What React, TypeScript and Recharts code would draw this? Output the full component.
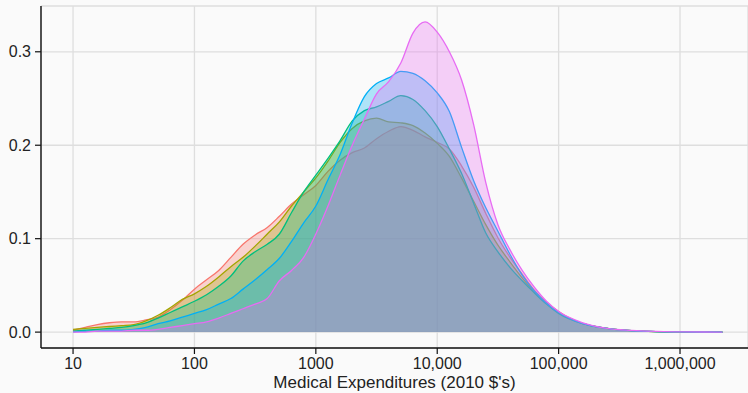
import React from 'react';
import { AreaChart, Area, XAxis, YAxis, CartesianGrid } from 'recharts';

// log10 of spending, one row per grid point
const logSpend = [
  1.0, 1.1, 1.2, 1.3, 1.4, 1.5, 1.6, 1.7, 1.8, 1.9,
  2.0, 2.1, 2.2, 2.3, 2.4, 2.5, 2.6, 2.7, 2.8, 2.9,
  3.0, 3.1, 3.2, 3.3, 3.4, 3.5, 3.6, 3.7, 3.8, 3.9,
  4.0, 4.1, 4.2, 4.3, 4.4, 4.5, 4.6, 4.7, 4.8, 4.9,
  5.0, 5.2, 5.4, 5.6, 5.8, 6.0, 6.2, 6.35,
];

const group1 = [
  0.002, 0.005, 0.008, 0.010, 0.011, 0.011, 0.013, 0.016, 0.024, 0.034,
  0.046, 0.056, 0.066, 0.080, 0.094, 0.104, 0.112, 0.124, 0.137, 0.147,
  0.157, 0.172, 0.184, 0.192, 0.197, 0.207, 0.215, 0.220, 0.216, 0.209,
  0.203, 0.196, 0.178, 0.155, 0.127, 0.101, 0.080, 0.062, 0.045, 0.032,
  0.022, 0.009, 0.004, 0.0015, 0.0005, 0.0002, 0.0001, 0,
];

const group2 = [
  0.003, 0.004, 0.005, 0.006, 0.007, 0.008, 0.012, 0.018, 0.026, 0.035,
  0.041, 0.049, 0.059, 0.070, 0.080, 0.092, 0.105, 0.118, 0.135, 0.150,
  0.165, 0.183, 0.203, 0.218, 0.226, 0.229, 0.225, 0.224, 0.221, 0.213,
  0.202, 0.188, 0.165, 0.140, 0.115, 0.093, 0.075, 0.058, 0.043, 0.031,
  0.021, 0.009, 0.004, 0.0015, 0.0005, 0.0002, 0.0001, 0,
];

const group3 = [
  0.001, 0.002, 0.003, 0.004, 0.005, 0.007, 0.010, 0.015, 0.021, 0.027,
  0.033, 0.040, 0.049, 0.060, 0.076, 0.086, 0.094, 0.105, 0.128, 0.150,
  0.168, 0.186, 0.205, 0.226, 0.237, 0.241, 0.247, 0.253, 0.249, 0.237,
  0.220, 0.196, 0.170, 0.138, 0.106, 0.086, 0.069, 0.055, 0.042, 0.030,
  0.020, 0.009, 0.004, 0.0015, 0.0005, 0.0002, 0.0001, 0,
];

const group4 = [
  0.000, 0.001, 0.001, 0.002, 0.002, 0.003, 0.005, 0.009, 0.012, 0.016,
  0.020, 0.024, 0.030, 0.036, 0.046, 0.056, 0.067, 0.079, 0.097, 0.117,
  0.135, 0.163, 0.190, 0.224, 0.252, 0.266, 0.272, 0.279, 0.277, 0.269,
  0.256, 0.236, 0.198, 0.162, 0.133, 0.108, 0.083, 0.061, 0.044, 0.031,
  0.021, 0.009, 0.004, 0.0015, 0.0006, 0.0002, 0.0001, 0,
];

const group5 = [
  0.000, 0.000, 0.001, 0.001, 0.001, 0.002, 0.002, 0.003, 0.005, 0.007,
  0.009, 0.011, 0.015, 0.020, 0.025, 0.030, 0.036, 0.055, 0.066, 0.080,
  0.105, 0.135, 0.168, 0.200, 0.228, 0.255, 0.268, 0.288, 0.320, 0.332,
  0.321, 0.300, 0.270, 0.222, 0.160, 0.115, 0.088, 0.066, 0.048, 0.033,
  0.022, 0.010, 0.004, 0.0018, 0.0007, 0.0003, 0.0001, 0,
];

const seriesKeys = ['group1', 'group2', 'group3', 'group4', 'group5'];
const seriesColors = ['#F8766D', '#A3A500', '#00BF7D', '#00B0F6', '#E76BF3'];

const xTicks = [1, 2, 3, 4, 5, 6];
const xTickLabels = ['10', '100', '1000', '10,000', '100,000', '1,000,000'];
const yTicks = [0, 0.1, 0.2, 0.3];

const data = logSpend.map((x, i) => ({
  x,
  group1: group1[i],
  group2: group2[i],
  group3: group3[i],
  group4: group4[i],
  group5: group5[i],
}));

const App: React.FC = () => {
  return (
    <div
      style={{
        position: 'absolute',
        left: 0,
        top: 0,
        width: 748,
        height: 393,
        background: '#fafafa',
        fontFamily: '"Liberation Sans", Arial, Helvetica, sans-serif',
      }}
    >
      <AreaChart width={748} height={393} data={data} margin={{ top: 6, right: 0, bottom: 0, left: 0 }}>
        <CartesianGrid stroke="#dedede" strokeWidth={1.3} />
        <XAxis
          dataKey="x"
          type="number"
          domain={[0.736, 6.56]}
          ticks={xTicks}
          allowDataOverflow
          height={45}
          tickSize={6}
          tickMargin={4}
          tickFormatter={(v: number) => xTickLabels[xTicks.indexOf(v)] ?? ''}
          tick={{ fill: '#222', fontSize: 16 }}
          axisLine={{ stroke: '#111', strokeWidth: 1.4 }}
          tickLine={{ stroke: '#111', strokeWidth: 1.2 }}
          label={{ value: "Medical Expenditures (2010 $'s)", position: 'insideBottom', offset: 5, fill: '#222', fontSize: 17 }}
        />
        <YAxis
          type="number"
          domain={[-0.017, 0.349]}
          ticks={yTicks}
          allowDataOverflow
          width={41}
          tickSize={6}
          tickMargin={4}
          tickFormatter={(v: number) => v.toFixed(1)}
          tick={{ fill: '#222', fontSize: 16 }}
          axisLine={{ stroke: '#111', strokeWidth: 1.4 }}
          tickLine={{ stroke: '#111', strokeWidth: 1.2 }}
        />
        {seriesKeys.map((key, i) => (
          <Area
            key={key}
            dataKey={key}
            type="monotone"
            baseValue={0}
            stroke={seriesColors[i]}
            strokeWidth={1.3}
            fill={seriesColors[i]}
            fillOpacity={0.3}
            dot={false}
            activeDot={false}
            isAnimationActive={false}
          />
        ))}
      </AreaChart>
    </div>
  );
};

export default App;
